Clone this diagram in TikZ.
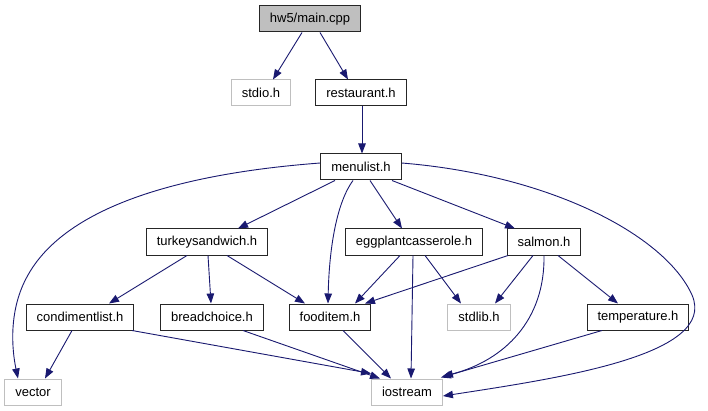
\documentclass[tikz,border=0pt]{standalone}
\usepackage{fontspec}
\setmainfont{Liberation Sans}
\usetikzlibrary{arrows.meta,calc}
\definecolor{edgeblue}{HTML}{191970}
\definecolor{lightgraybd}{HTML}{BFBFBF}
\begin{document}
\begin{tikzpicture}[x=1pt,y=-1pt,
  box/.style={draw=black!85,line width=1pt,fill=white,minimum height=26pt,inner ysep=0pt,inner xsep=10.5pt,font=\fontsize{13}{15}\selectfont},
  ext/.style={box,draw=lightgraybd},
  root/.style={box,fill=lightgraybd},
  dep/.style={draw=edgeblue,line width=0.9pt,-{Triangle[length=10pt,width=7.5pt]}}]
\useasboundingbox (0,0) rectangle (708,411);
\fill[white] (0,0) rectangle (708,411);
% nodes
\node[root] (main) at (310,19) {hw5/main.cpp};
\node[ext] (stdio) at (261,93) {stdio.h};
\node[box] (rest) at (361,93) {restaurant.h};
\node[box] (menu) at (361,167) {menulist.h};
\node[box] (turkey) at (207,242) {turkeysandwich.h};
\node[box] (egg) at (414,242) {eggplantcasserole.h};
\node[box] (salmon) at (544,242) {salmon.h};
\node[box] (cond) at (80,317) {condimentlist.h};
\node[box] (bread) at (212,317) {breadchoice.h};
\node[box] (food) at (330,317) {fooditem.h};
\node[ext] (stdlib) at (479,317) {stdlib.h};
\node[box] (temp) at (638,317) {temperature.h};
\node[ext] (vector) at (33,392) {vector};
\node[ext] (iostream) at (407,392) {iostream};
% edges
\draw[dep] ([xshift=-8pt]main.south) -- ([xshift=12pt]stdio.north);
\draw[dep] ([xshift=10pt]main.south) -- ([xshift=-13pt]rest.north);
\draw[dep] ([xshift=1pt]rest.south) -- ([xshift=1pt]menu.north);
\draw[dep] ([xshift=-26pt]menu.south) -- ([xshift=31pt]turkey.north);
\draw[dep] ([xshift=9pt]menu.south) -- ([xshift=-12pt]egg.north);
\draw[dep] ([xshift=31pt]menu.south) -- ([xshift=-29pt]salmon.north);
\draw[dep] ([xshift=-8pt]menu.south) .. controls (335,205) and (329,255) .. ([xshift=-2pt]food.north);
\draw[dep] ([yshift=4pt]menu.west) .. controls (200,172) and (70,200) .. (28,275) .. controls (8,310) and (12,350) .. ([xshift=-15pt]vector.north);
\draw[dep] ([yshift=4pt]menu.east) .. controls (550,175) and (665,235) .. (692,295) .. controls (718,355) and (560,378) .. ([yshift=-4pt]iostream.east);
\draw[dep] ([xshift=-20pt]turkey.south) -- ([xshift=29pt]cond.north);
\draw[dep] ([xshift=1pt]turkey.south) -- ([xshift=-1pt]bread.north);
\draw[dep] ([xshift=20pt]turkey.south) -- ([xshift=-25pt]food.north);
\draw[dep] ([xshift=-14pt]egg.south) -- ([xshift=25pt]food.north);
\draw[dep] ([xshift=-1pt]egg.south) -- ([xshift=4pt]iostream.north);
\draw[dep] ([xshift=11pt]egg.south) -- ([xshift=-18pt]stdlib.north);
\draw[dep] ([xshift=-36pt]salmon.south) -- ([xshift=35pt]food.north);
\draw[dep] ([xshift=-11pt]salmon.south) -- ([xshift=16pt]stdlib.north);
\draw[dep] ([xshift=0pt]salmon.south) .. controls (545,320) and (505,360) .. ([yshift=2pt]iostream.north east);
\draw[dep] ([xshift=14pt]salmon.south) -- ([xshift=-20pt]temp.north);
\draw[dep] ([xshift=-8pt]cond.south) -- ([xshift=12pt]vector.north);
\draw[dep] ([xshift=52pt]cond.south) -- ([yshift=5pt]iostream.north west);
\draw[dep] ([xshift=31pt]bread.south) -- ([xshift=-27pt]iostream.north);
\draw[dep] ([xshift=13pt]food.south) -- ([xshift=-16pt]iostream.north);
\draw[dep] ([xshift=-36pt]temp.south) -- ([xshift=-2pt,yshift=1pt]iostream.north east);
\end{tikzpicture}
\end{document}
